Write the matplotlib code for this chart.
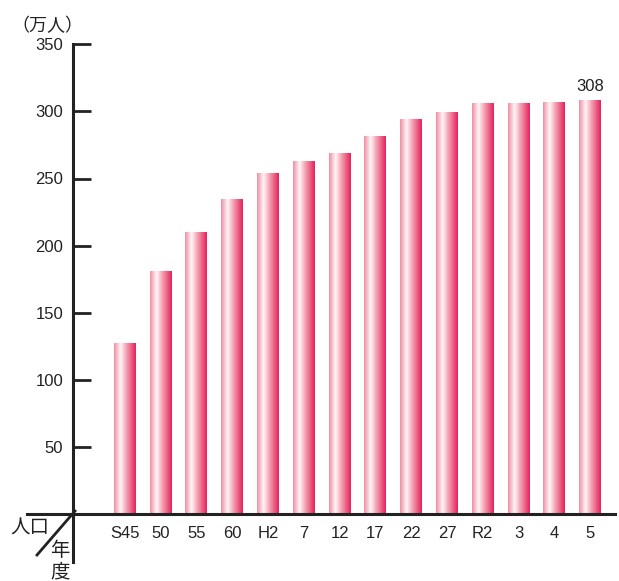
import numpy as np
import matplotlib
matplotlib.use("Agg")
import matplotlib.pyplot as plt
from matplotlib.colors import LinearSegmentedColormap

plt.rcParams['font.family'] = ['Liberation Sans', 'Noto Sans CJK JP', 'DejaVu Sans']

# データ（万人）
years = ["S45", "50", "55", "60", "H2", "7", "12", "17", "22", "27", "R2", "3", "4", "5"]
values = [127, 181, 210, 234, 254, 263, 269, 281, 294, 299, 306, 306, 307, 308]
yticks = [50, 100, 150, 200, 250, 300, 350]

W, H = 619, 581
fig = plt.figure(figsize=(W / 100, H / 100), dpi=100)
ax = fig.add_axes([73 / W, 67 / H, (615 - 73) / W, (514 - 44.3) / H])

xmin = -1.447
xmax = xmin + (615 - 73) / 35.8
ax.set_xlim(xmin, xmax)
ax.set_ylim(0, 350)

# 棒のグラデーション（左ピンク→白→濃い赤）
cmap = LinearSegmentedColormap.from_list("bar", [
    (0.0, "#f090a4"), (0.3, "#fff6f8"), (0.55, "#f4a6b6"), (1.0, "#e4235a")])
grad = np.linspace(0, 1, 64).reshape(1, -1)
bw = 0.614
for i, v in enumerate(values):
    ax.imshow(grad, cmap=cmap, aspect="auto", extent=(i - bw / 2, i + bw / 2, 0, v),
              interpolation="bilinear", zorder=2)
ax.set_xlim(xmin, xmax)
ax.set_ylim(0, 350)

ax.text(len(values) - 1, values[-1] + 5, str(values[-1]), ha="center", va="bottom",
        fontsize=12, color="#222222")

# 軸
for s in ["top", "right", "bottom"]:
    ax.spines[s].set_visible(False)
ax.spines["left"].set_linewidth(2.2)
ax.spines["left"].set_color("#222222")
ax.set_yticks(yticks)
ax.set_yticklabels([str(t) for t in yticks], fontsize=12, color="#222222")
ax.tick_params(axis="y", direction="in", length=13, width=2, color="#222222", pad=7)
ax.set_xticks(range(len(years)))
ax.set_xticklabels(years, fontsize=12, color="#222222")
ax.tick_params(axis="x", length=0, pad=9)

# 左下の線
fig.add_artist(plt.Line2D([27 / W, 615 / W], [1 - 514 / H, 1 - 514 / H], color="#222222", lw=2.2))
fig.add_artist(plt.Line2D([73 / W, 73 / W], [1 - 514 / H, 1 - 562 / H], color="#222222", lw=2.2))
fig.add_artist(plt.Line2D([37 / W, 75 / W], [1 - 555 / H, 1 - 511 / H], color="#222222", lw=2))

fig.text(47 / W, 1 - 26 / H, "（万人）", ha="center", va="center", fontsize=13,
         family=['Noto Sans CJK JP'], color="#222222")
fig.text(30 / W, 1 - 528 / H, "人口", ha="center", va="center", fontsize=14,
         family=['Noto Sans CJK JP'], color="#222222")
fig.text(60 / W, 1 - 550 / H, "年", ha="center", va="center", fontsize=14,
         family=['Noto Sans CJK JP'], color="#222222")
fig.text(60 / W, 1 - 572 / H, "度", ha="center", va="center", fontsize=14,
         family=['Noto Sans CJK JP'], color="#222222")

fig.savefig("out.png", dpi=100)
